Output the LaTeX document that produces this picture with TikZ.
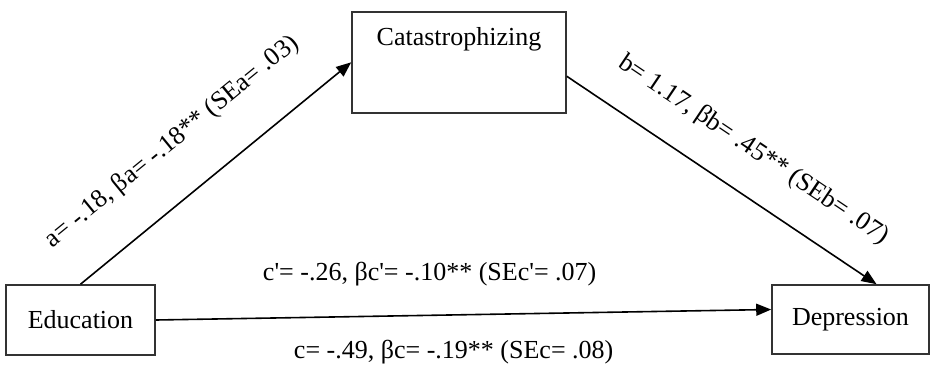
\documentclass[tikz,border=0pt]{standalone}
\usepackage{fontspec}
\setmainfont{Liberation Serif}
\usetikzlibrary{arrows.meta, positioning}

\begin{document}
\begin{tikzpicture}[
    x=0.5pt, y=-0.5pt,
    font=\fontsize{13pt}{15pt}\selectfont,
    % --- Node styles ---
    varbox/.style = {rectangle, draw=black!80, thick, fill=white,
        align=center, inner sep=0pt},
    pathlabel/.style = {font=\fontsize{13pt}{15pt}\selectfont, inner sep=2pt},
    % --- Arrow style ---
    arrow/.style = {thick, -{Triangle[length=7.5pt, width=6pt]}, draw=black}
]

\useasboundingbox (0,0) rectangle (931,364);

% ==================== VARIABLES ====================
\node[varbox, minimum width=74.5pt, minimum height=35pt] (edu) at (80.5,320) {Education};

\node[varbox, minimum width=107pt, text height=17pt, text depth=33.5pt] (cat)
    at (459,11) [anchor=north] {Catastrophizing};

\node[varbox, minimum width=78.5pt, minimum height=34.5pt] (dep) at (850.5,319.5) {Depression};

% ==================== PATHS ====================
\draw[arrow] (edu.north) -- node[pathlabel, sloped, above=17.5pt, pos=0.46]
    {a= -.18, βa= -.18** (SEa= .03)} (cat.west);

\draw[arrow] ([yshift=-7pt]cat.east) -- node[pathlabel, sloped, above=13pt, pos=0.525]
    {b= 1.17, βb= .45** (SEb= .07)} ([xshift=13pt]dep.north);

\draw[arrow] (edu.east) --
    node[pathlabel, above=12pt, pos=0.445] {c\textquotesingle= -.26, βc\textquotesingle= -.10** (SEc\textquotesingle= .07)}
    node[pathlabel, below=10pt, pos=0.484] {c= -.49, βc= -.19** (SEc= .08)}
    ([yshift=5pt]dep.west);

\end{tikzpicture}
\end{document}
